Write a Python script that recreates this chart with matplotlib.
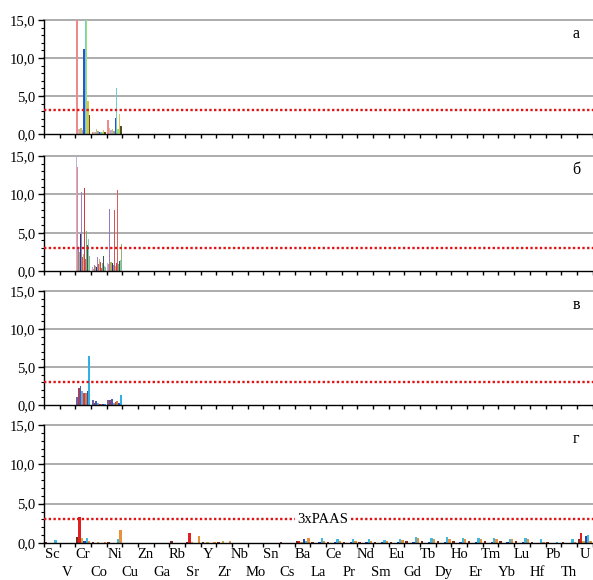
import numpy as np
import matplotlib
matplotlib.use("Agg")
import matplotlib.pyplot as plt

plt.rcParams["font.family"] = ["Liberation Serif", "DejaVu Serif"]

# Elements on the horizontal axis
elements = ["Sc", "V", "Cr", "Co", "Ni", "Cu", "Zn", "Ga", "Rb", "Sr", "Y", "Zr",
            "Nb", "Mo", "Sn", "Cs", "Ba", "La", "Ce", "Pr", "Nd", "Sm", "Eu", "Gd",
            "Tb", "Dy", "Ho", "Er", "Tm", "Yb", "Lu", "Hf", "Pb", "Th", "U"]

# Panels а, б, в: only Cr, Co, Ni were measured
trace_elements = ["Cr", "Co", "Ni"]

panel_a_colors = ["#f08a8a", "#d8c090", "#c4acd8", "#c8c070", "#a8a8a8",
                  "#3050d0", "#70d0c8", "#98e078", "#e0c050", "#505020"]
panel_a_values = [
    [22.0, 0.2, 1.9],
    [0.7, 0.3, 0.8],
    [0.6, 0.2, 0.5],
    [0.8, 0.6, 0.6],
    [0.5, 0.4, 0.4],
    [11.2, 0.3, 2.1],
    [17.0, 0.2, 6.0],
    [19.0, 0.3, 0.7],
    [4.3, 0.5, 2.6],
    [2.5, 0.3, 1.1],
]

panel_b_colors = ["#c0b0e0", "#e88a8a", "#9a78c0", "#b0b060", "#2c3a60",
                  "#a080c8", "#d05858", "#d0b080", "#c84040", "#d86060",
                  "#70b870", "#405060", "#88c8c8", "#90b870"]
panel_b_values = [
    [16.0, 0.5, 1.0],
    [13.6, 0.3, 0.9],
    [3.0, 0.8, 8.1],
    [2.5, 0.6, 1.2],
    [4.8, 0.5, 1.1],
    [10.3, 1.8, 0.8],
    [1.8, 0.9, 8.0],
    [2.2, 1.5, 0.7],
    [10.8, 1.2, 1.1],
    [1.5, 0.4, 10.6],
    [5.2, 1.0, 0.9],
    [3.4, 2.0, 1.3],
    [4.2, 0.7, 1.4],
    [2.0, 0.5, 3.5],
]

panel_v_colors = ["#7060a0", "#a04060", "#4060b0", "#70a8d8",
                  "#d04040", "#d08040", "#3050c0", "#30b0e8"]
panel_v_values = [
    [1.05, 0.6, 0.7],
    [2.3, 0.3, 0.6],
    [2.5, 0.5, 0.8],
    [1.8, 0.2, 0.3],
    [1.6, 0.1, 0.4],
    [1.6, 0.1, 0.5],
    [1.8, 0.15, 0.3],
    [6.4, 0.1, 1.3],
]

# Panel г: all elements
panel_g_colors = ["#7a2a20", "#e02020", "#c8b040", "#2848b0", "#40b8e0", "#e8903a"]
panel_g_values = [
    # Sc   V     Cr   Co    Ni    Cu    Zn    Ga    Rb   Sr   Y    Zr   Nb    Mo    Sn    Cs    Ba   La    Ce    Pr    Nd    Sm    Eu    Gd   Tb   Dy   Ho   Er   Tm   Yb   Lu   Hf   Pb   Th   U
    [0.10, 0.05, 0.7, 0.15, 0.10, 0.05, 0.05, 0.05, 0.2, 0.1, 0.1, 0.1, 0.05, 0.05, 0.05, 0.15, 0.2, 0.15, 0.15, 0.15, 0.15, 0.15, 0.15, 0.2, 0.2, 0.2, 0.2, 0.2, 0.2, 0.2, 0.2, 0.1, 0.1, 0.1, 0.5],
    [0.05, 0.02, 3.3, 0.05, 0.05, 0.02, 0.02, 0.02, 0.05, 1.3, 0.05, 0.05, 0.02, 0.02, 0.02, 0.05, 0.3, 0.05, 0.05, 0.05, 0.05, 0.05, 0.05, 0.05, 0.05, 0.05, 0.05, 0.05, 0.05, 0.05, 0.05, 0.02, 0.05, 0.05, 1.3],
    [0.05, 0.02, 0.6, 0.10, 0.05, 0.02, 0.02, 0.02, 0.05, 0.1, 0.15, 0.2, 0.02, 0.02, 0.02, 0.05, 0.1, 0.05, 0.05, 0.05, 0.05, 0.05, 0.05, 0.05, 0.05, 0.05, 0.05, 0.05, 0.05, 0.05, 0.05, 0.02, 0.05, 0.05, 0.2],
    [0.05, 0.02, 0.3, 0.05, 0.05, 0.02, 0.02, 0.02, 0.05, 0.05, 0.05, 0.05, 0.02, 0.02, 0.02, 0.05, 0.5, 0.1, 0.1, 0.1, 0.1, 0.1, 0.1, 0.1, 0.1, 0.1, 0.1, 0.1, 0.1, 0.1, 0.1, 0.05, 0.05, 0.05, 0.9],
    [0.35, 0.05, 0.6, 0.05, 0.5, 0.02, 0.02, 0.02, 0.05, 0.05, 0.05, 0.05, 0.02, 0.02, 0.02, 0.05, 0.2, 0.6, 0.5, 0.45, 0.45, 0.4, 0.5, 0.7, 0.65, 0.7, 0.65, 0.6, 0.6, 0.55, 0.6, 0.5, 0.1, 0.5, 1.0],
    [0.05, 0.02, 0.3, 0.10, 1.6, 0.02, 0.02, 0.02, 0.05, 0.9, 0.1, 0.2, 0.02, 0.02, 0.02, 0.05, 0.6, 0.3, 0.3, 0.3, 0.3, 0.3, 0.35, 0.6, 0.55, 0.55, 0.55, 0.5, 0.5, 0.5, 0.55, 0.1, 0.05, 0.1, 0.3],
]

panel_labels = ["а", "б", "в", "г"]
thresholds = [3.2, 3.0, 3.0, 3.0]
threshold_label = "3xPAAS"

fig = plt.figure(figsize=(5.93, 5.80), dpi=100)

# [bottom, height] of each panel in figure fractions
boxes = [(0.769, 0.1966), (0.5328, 0.198), (0.3017, 0.1966), (0.0638, 0.2034)]

panels = [
    (trace_elements, panel_a_colors, panel_a_values),
    (trace_elements, panel_b_colors, panel_b_values),
    (trace_elements, panel_v_colors, panel_v_values),
    (elements, panel_g_colors, panel_g_values),
]

n_el = len(elements)
group = 0.9

for p, ((cats, colors, values), (bottom, height)) in enumerate(zip(panels, boxes)):
    ax = fig.add_axes([0.0742, bottom, 0.9250, height])
    idx = np.array([elements.index(c) for c in cats], dtype=float)
    n = len(values)
    w = group / n
    for k, (vals, col) in enumerate(zip(values, colors)):
        x = idx + 0.5 - group / 2 + (k + 0.5) * w
        ax.bar(x, vals, width=w, color=col, linewidth=0, zorder=2)

    ax.set_xlim(0, n_el)
    ax.set_ylim(0, 15)

    for g in [5, 10, 15]:
        ax.axhline(g, color="#a6a6a6", lw=1.3, zorder=0, clip_on=False)

    ax.axhline(thresholds[p], color="#e01414", lw=1.7, linestyle=(0, (1, 1)), zorder=3)

    for s in ["top", "right"]:
        ax.spines[s].set_visible(False)
    ax.spines["left"].set_linewidth(1.0)
    ax.spines["bottom"].set_linewidth(1.0)

    ax.set_yticks([0, 5, 10, 15])
    ax.set_yticklabels([f"{v:.1f}".replace(".", ",") for v in [0, 5, 10, 15]], fontsize=10.5)
    ax.set_yticks(np.arange(0, 16, 1), minor=True)
    ax.tick_params(axis="y", which="major", direction="out", length=4, width=1, pad=2)
    ax.tick_params(axis="y", which="minor", direction="out", length=2, width=0.8)

    # boundary tick marks between elements
    ax.set_xticks(np.arange(0, n_el + 1, 1))
    ax.tick_params(axis="x", which="major", direction="out", length=3, width=1, labelbottom=False)

    if p == 3:
        ax.set_xticks(np.arange(n_el) + 0.5, minor=True)
        ax.set_xticklabels(elements, minor=True, fontsize=10.5)
        ax.tick_params(axis="x", which="minor", length=0)
        for i, t in enumerate(ax.xaxis.get_minor_ticks()):
            t.set_pad(3.5 if i % 2 == 0 else 16.5)
        ax.text(17.8, thresholds[p], threshold_label, ha="center", va="center", fontsize=10.5,
                zorder=4, bbox=dict(boxstyle="square,pad=0.15", fc="white", ec="none"))

    ax.text(33.95, 13.2, panel_labels[p], ha="center", va="center", fontsize=11.5)

fig.savefig("out.png", dpi=100)
